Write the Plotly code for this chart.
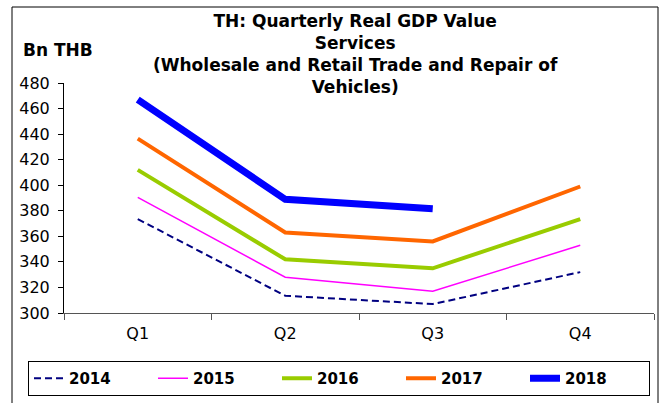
import plotly.graph_objects as go

quarters = ["Q1", "Q2", "Q3", "Q4"]
years = ["2014", "2015", "2016", "2017", "2018"]
values = {
    "2014": [373.5, 313.5, 307, 332],
    "2015": [390.5, 328, 317, 353],
    "2016": [412, 342, 335, 373.5],
    "2017": [436.5, 363, 356, 399],
    "2018": [467, 389, 381.5, None],
}
colors = ["#000080", "#FF00FF", "#99CC00", "#FF6600", "#0000FF"]
widths = [2, 1.5, 4, 4, 7]
dashes = ["7px,4px", "solid", "solid", "solid", "solid"]

FONT = "DejaVu Sans"

fig = go.Figure()
for y, c, w, d in zip(years, colors, widths, dashes):
    fig.add_trace(go.Scatter(
        x=quarters, y=values[y], name=y, mode="lines",
        line=dict(color=c, width=w, dash=d),
        connectgaps=False,
    ))

W, H = 668, 403
L, R, T, B = 64, 14, 83, 90
pw, ph = W - L - R, H - T - B

def px_x(x):
    return (x - L) / pw

def px_y(y):
    return (H - B - y) / ph

fig.update_layout(
    width=W, height=H,
    margin=dict(l=L, r=R, t=T, b=B, autoexpand=False),
    paper_bgcolor="white", plot_bgcolor="white",
    font=dict(family=FONT, color="black", size=16),
    showlegend=True,
    legend=dict(
        orientation="h",
        x=px_x(28), xanchor="left",
        y=px_y(361), yanchor="top",
        bordercolor="black", borderwidth=1, bgcolor="white",
        font=dict(family=FONT, size=15, color="black", weight="bold"),
        entrywidth=79, entrywidthmode="pixels",
        traceorder="normal",
    ),
    xaxis=dict(
        type="category", categoryorder="array", categoryarray=quarters,
        range=[-0.5, 3.5], tickson="boundaries",
        ticks="outside", ticklen=6, tickcolor="#555555",
        showline=True, linecolor="#555555", linewidth=1,
        showgrid=False, zeroline=False,
        ticklabelstandoff=6,
        tickfont=dict(family=FONT, size=16),
    ),
    yaxis=dict(
        range=[300, 480], dtick=20, tick0=300,
        ticks="outside", ticklen=5, tickcolor="black",
        showline=True, linecolor="black", linewidth=1,
        showgrid=False, zeroline=False,
        ticklabelstandoff=5,
        tickfont=dict(family=FONT, size=16),
    ),
    annotations=[
        dict(text="<b>TH: Quarterly Real GDP Value<br>Services<br>"
                  "(Wholesale and Retail Trade and Repair of<br>Vehicles)</b>",
             xref="paper", yref="paper",
             x=px_x(355), y=px_y(9), xanchor="center", yanchor="top",
             showarrow=False, align="center",
             font=dict(family=FONT, size=17, color="black")),
        dict(text="<b>Bn THB</b>", xref="paper", yref="paper",
             x=px_x(58), y=px_y(50), xanchor="center", yanchor="middle",
             showarrow=False, font=dict(family=FONT, size=17, color="black")),
    ],
    shapes=[
        dict(type="rect", xref="paper", yref="paper",
             x0=px_x(12), x1=px_x(658), y0=px_y(410), y1=px_y(7),
             line=dict(color="black", width=1), fillcolor="rgba(0,0,0,0)",
             layer="below"),
    ],
)

fig.write_html("out.html")
